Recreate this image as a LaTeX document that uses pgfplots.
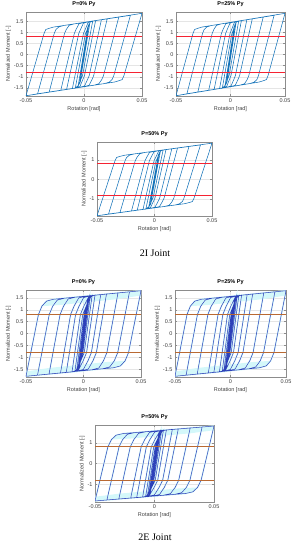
\documentclass[border=0pt]{standalone}
\usepackage{fontspec}
\setmainfont{Liberation Sans}
\newfontfamily\capfont{Liberation Serif}
\usepackage{pgfplots}
\usepackage{pgfplotstable}
\pgfplotsset{compat=1.18}
\definecolor{mblue}{RGB}{20,115,185}
\definecolor{eblue}{RGB}{45,65,185}
\definecolor{mred}{RGB}{245,35,50}
\definecolor{ebrown}{RGB}{185,105,50}
\definecolor{ecyan}{RGB}{212,248,250}

\pgfplotstableread{
x y
-0.00375 -1.30
0.0030 1.20
0.00375 1.30
-0.0030 -1.20
-0.00375 -1.30
-0.005 -1.40
0.0035 1.28
0.005 1.40
-0.0035 -1.28
-0.005 -1.40
-0.0075 -1.51
0.00129 0.95
0.00279 1.13
0.00529 1.46
0.0075 1.51
-0.00129 -0.95
-0.00279 -1.13
-0.00529 -1.46
-0.0075 -1.51
-0.01 -1.53
-0.00046 0.95
0.00104 1.13
0.00354 1.448
0.0075 1.51
0.01 1.53
0.00046 -0.95
-0.00104 -1.13
-0.00354 -1.448
-0.0075 -1.51
-0.01 -1.53
-0.015 -1.57
-0.0045 0.95
-0.003 1.13
-0.0005 1.416
0.0035 1.478
0.015 1.57
0.0045 -0.95
0.003 -1.13
0.0005 -1.416
-0.0035 -1.478
-0.015 -1.57
-0.02 -1.61
-0.00836 0.95
-0.00686 1.13
-0.00436 1.385
-0.00036 1.447
0.02 1.61
0.00836 -0.95
0.00686 -1.13
0.00436 -1.385
0.00036 -1.447
-0.02 -1.61
-0.03 -1.69
-0.0168 0.95
-0.0153 1.13
-0.0128 1.318
-0.0088 1.38
0.03 1.69
0.0168 -0.95
0.0153 -1.13
0.0128 -1.318
0.0088 -1.38
-0.03 -1.69
-0.04 -1.77
-0.02568 0.95
-0.02418 1.13
-0.02168 1.247
-0.01768 1.309
0.04 1.77
0.02568 -0.95
0.02418 -1.13
0.02168 -1.247
0.01768 -1.309
-0.04 -1.77
-0.05 -1.86
-0.03444 0.95
-0.03294 1.13
-0.03044 1.176
-0.02644 1.238
0.05 1.86
0.03444 -0.95
0.03294 -1.13
0.03044 -1.176
0.02644 -1.238
-0.05 -1.86
}\dataI

\pgfplotstableread{
x y
-0.00375 -1.50
0.0020 0.80
0.0032 1.30
0.00375 1.50
-0.0020 -0.80
-0.0032 -1.30
-0.00375 -1.50
-0.0045 -1.52
0.0015 0.80
0.0033 1.32
0.0045 1.53
-0.0015 -0.80
-0.0033 -1.32
-0.0045 -1.52
-0.005 -1.55
0.00118 0.80
0.0032 1.30
0.005 1.55
-0.00118 -0.80
-0.0032 -1.30
-0.005 -1.55
-0.006 -1.57
0.0005 0.80
0.0030 1.25
0.0055 1.55
0.006 1.58
-0.0005 -0.80
-0.0030 -1.25
-0.0055 -1.55
-0.006 -1.57
-0.0075 -1.60
-0.00064 0.80
0.00236 1.15
0.00636 1.539
0.0075 1.60
0.00064 -0.80
-0.00236 -1.15
-0.00636 -1.539
-0.0075 -1.60
-0.01 -1.616
-0.00268 0.80
0.00032 1.15
0.00432 1.53
0.01 1.616
0.00268 -0.80
-0.00032 -1.15
-0.00432 -1.53
-0.01 -1.616
-0.015 -1.639
-0.00687 0.80
-0.00387 1.15
0.00013 1.511
0.00613 1.588
0.015 1.639
0.00687 -0.80
0.00387 -1.15
-0.00013 -1.511
-0.00613 -1.588
-0.015 -1.639
-0.02 -1.662
-0.01121 0.80
-0.00821 1.15
-0.00421 1.491
0.00179 1.568
0.02 1.662
0.01121 -0.80
0.00821 -1.15
0.00421 -1.491
-0.00179 -1.568
-0.02 -1.662
-0.03 -1.708
-0.02035 0.80
-0.01735 1.15
-0.01335 1.449
-0.00735 1.526
0.03 1.708
0.02035 -0.80
0.01735 -1.15
0.01335 -1.449
0.00735 -1.526
-0.03 -1.708
-0.04 -1.754
-0.02978 0.80
-0.02678 1.15
-0.02278 1.405
-0.01678 1.483
0.04 1.754
0.02978 -0.80
0.02678 -1.15
0.02278 -1.405
0.01678 -1.483
-0.04 -1.754
-0.05 -1.80
-0.03917 0.80
-0.03617 1.15
-0.03217 1.362
-0.02617 1.44
0.05 1.80
0.03917 -0.80
0.03617 -1.15
0.03217 -1.362
0.02617 -1.44
-0.05 -1.80
}\dataE

\pgfplotstableread{
x y
-0.036 1.15
-0.032 1.35
-0.025 1.47
0.0 1.58
0.03 1.70
0.05 1.80
0.05 1.60
0.03 1.45
0.0 1.30
-0.02 1.20
-0.036 1.15
}\fillTop

\pgfplotstableread{
x y
0.036 -1.15
0.032 -1.35
0.025 -1.47
0.0 -1.58
-0.03 -1.70
-0.05 -1.80
-0.05 -1.60
-0.03 -1.45
0.0 -1.30
0.02 -1.20
0.036 -1.15
}\fillBot

\pgfplotsset{
  hyst/.style={
    scale only axis, anchor=south west,
    xmin=-0.05, xmax=0.05,
    scaled x ticks=false, scaled y ticks=false,
    xtick={-0.05,0,0.05}, xticklabels={-0.05,0,0.05},
    grid=major, grid style={black!10, line width=0.3pt},
    axis line style={black!45, line width=0.4pt},
    tick style={black!45, line width=0.3pt}, tick align=inside,
    major tick length=2pt,
    ticklabel style={font=\fontsize{5.5}{6}\selectfont, text=black!75},
    xticklabel style={yshift=1pt},
    yticklabel style={xshift=1pt},
    label style={font=\fontsize{5.5}{6}\selectfont, text=black!75},
    xlabel={Rotation [rad]}, ylabel={Normalized Moment [-]},
    xlabel style={yshift=3pt}, ylabel style={yshift=-4pt},
    title style={font=\bfseries\fontsize{5.5}{6}\selectfont, yshift=-4pt},
  },
  ticksA/.style={ytick={-1.5,-1,-0.5,0,0.5,1,1.5}, yticklabels={-1.5,-1,-0.5,0,0.5,1,1.5}},
  ticksB/.style={ytick={-1,0,1}, yticklabels={-1,0,1}},
}

\newcommand{\plotI}{%
  \addplot[mblue, line width=0.55pt] table[x=x,y=y]{\dataI};
  \addplot[mred, line width=1.1pt] coordinates {(-0.05,0.8) (0.05,0.8)};
  \addplot[mred, line width=1.1pt] coordinates {(-0.05,-0.8) (0.05,-0.8)};
}
\newcommand{\plotE}{%
  \addplot[draw=none, fill=ecyan] table[x=x,y=y]{\fillTop};
  \addplot[draw=none, fill=ecyan] table[x=x,y=y]{\fillBot};
  \addplot[ecyan, line width=1.5pt] table[x=x,y=y]{\dataE};
  \addplot[eblue, line width=0.5pt] table[x=x,y=y]{\dataE};
  \addplot[ebrown, line width=0.9pt] coordinates {(-0.05,0.8) (0.05,0.8)};
  \addplot[ebrown, line width=0.9pt] coordinates {(-0.05,-0.8) (0.05,-0.8)};
}

\begin{document}
\begin{tikzpicture}[x=1pt,y=1pt]
\path[use as bounding box] (0,0) rectangle (300,550);

\begin{axis}[hyst, ticksA, at={(26pt,454pt)}, width=116pt, height=84pt,
  ymin=-1.87, ymax=1.92, title={P=0\% Py}]
\plotI
\end{axis}

\begin{axis}[hyst, ticksA, at={(176pt,454pt)}, width=109pt, height=84pt,
  ymin=-1.87, ymax=1.92, title={P=25\% Py}]
\plotI
\end{axis}

\begin{axis}[hyst, ticksB, at={(97pt,334pt)}, width=115pt, height=74pt,
  ymin=-1.87, ymax=1.92, title={P=50\% Py}]
\plotI
\end{axis}

\node[font=\capfont\fontsize{10}{12}\selectfont] at (155,297) {2I Joint};

\begin{axis}[hyst, ticksA, at={(26pt,173pt)}, width=115pt, height=87pt,
  ymin=-1.83, ymax=1.83, title={P=0\% Py}]
\plotE
\end{axis}

\begin{axis}[hyst, ticksA, at={(175pt,173pt)}, width=111pt, height=87pt,
  ymin=-1.83, ymax=1.83, title={P=25\% Py}]
\plotE
\end{axis}

\begin{axis}[hyst, ticksB, at={(95pt,48pt)}, width=119pt, height=77pt,
  ymin=-1.85, ymax=1.85, title={P=50\% Py}]
\plotE
\end{axis}

\node[font=\capfont\fontsize{10}{12}\selectfont] at (155,13) {2E Joint};
\end{tikzpicture}
\end{document}
